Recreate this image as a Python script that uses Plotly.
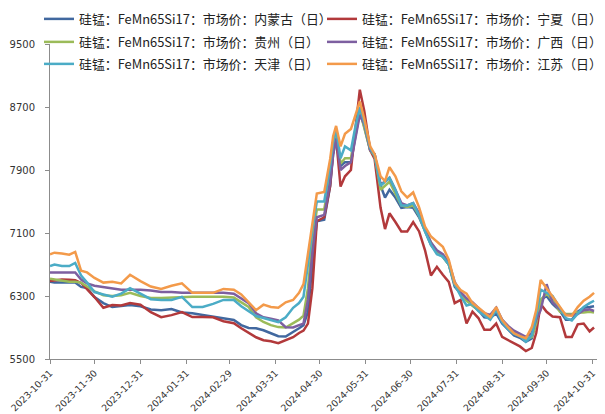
import plotly.graph_objects as go

dates = [
    "2023-10-31", "2023-11-03", "2023-11-08", "2023-11-13", "2023-11-17", "2023-11-21", "2023-11-25",
    "2023-11-30", "2023-12-06", "2023-12-12", "2023-12-18", "2023-12-24", "2023-12-31",
    "2024-01-07", "2024-01-14", "2024-01-21", "2024-01-28", "2024-02-04", "2024-02-11", "2024-02-18",
    "2024-02-25", "2024-03-03", "2024-03-08", "2024-03-13", "2024-03-18", "2024-03-23", "2024-03-28",
    "2024-04-02", "2024-04-07", "2024-04-12", "2024-04-16", "2024-04-19", "2024-04-22", "2024-04-25",
    "2024-04-28", "2024-05-03", "2024-05-07", "2024-05-09", "2024-05-11", "2024-05-14", "2024-05-17",
    "2024-05-21", "2024-05-24", "2024-05-27", "2024-05-30", "2024-06-03", "2024-06-06", "2024-06-10",
    "2024-06-13", "2024-06-16", "2024-06-20", "2024-06-24", "2024-06-28", "2024-07-02", "2024-07-06",
    "2024-07-10", "2024-07-14", "2024-07-18", "2024-07-22", "2024-07-26", "2024-07-30", "2024-08-03",
    "2024-08-07", "2024-08-11", "2024-08-15", "2024-08-19", "2024-08-23", "2024-08-27", "2024-08-31",
    "2024-09-04", "2024-09-08", "2024-09-12", "2024-09-16", "2024-09-20", "2024-09-23", "2024-09-26",
    "2024-09-30", "2024-10-04", "2024-10-09", "2024-10-13", "2024-10-17", "2024-10-21", "2024-10-25",
    "2024-10-29", "2024-11-01",
]

neimenggu = [
    6480, 6470, 6470, 6470, 6470, 6415, 6400, 6287, 6210, 6160, 6170, 6185, 6170,
    6130, 6120, 6134, 6090, 6080, 6060, 6040, 6020,
    5995, 5930, 5895, 5890, 5865, 5827,
    5790, 5785, 5840, 5890, 5930, 6100, 6700, 7250,
    7270, 7700, 8100, 8300, 7950, 8000, 8000, 8350, 8650, 8450,
    8150, 8100, 7700, 7550, 7650, 7550, 7420, 7430, 7420, 7300,
    7120, 6950, 6850, 6800, 6700, 6420, 6330, 6250, 6180, 6120,
    6030, 6020, 6080, 5950, 5870, 5800, 5770, 5720, 5760, 5980,
    6250, 6300, 6200, 6110, 6000, 6000, 6100, 6150, 6160, 6170,
]

ningxia = [
    6490, 6500, 6510, 6505, 6500, 6466, 6390, 6287, 6150, 6185, 6180, 6210, 6190,
    6095, 6032, 6057, 6095, 6032, 6032, 6030, 5980,
    5955, 5890, 5830, 5776, 5738, 5725,
    5700, 5738, 5776, 5830, 5860, 5950, 6400, 7250,
    7300, 7700, 8150, 8300, 7690, 7820, 7900, 8420, 8920, 8650,
    8150, 8040, 7420, 7150, 7350, 7240, 7120, 7120, 7240, 7120,
    6880, 6560, 6670, 6570, 6480, 6210, 6250, 5950, 6100, 6020,
    5870, 5870, 5950, 5780, 5740, 5700, 5660, 5600, 5640, 5830,
    6200, 6100, 6040, 6030, 5780, 5780, 5940, 5950, 5850, 5900,
]

guizhou = [
    6520, 6510, 6490, 6480, 6480, 6470, 6420, 6360, 6310, 6300, 6310, 6340, 6300,
    6275, 6275, 6280, 6290, 6290, 6290, 6290, 6290,
    6280, 6220, 6160, 6030, 5970, 5930,
    5905, 5900, 5950, 6000, 6050, 6400, 7000, 7400,
    7400, 7850, 8200, 8380, 7980, 8050, 8050, 8380, 8650, 8450,
    8150, 8080, 7650, 7700, 7750, 7600, 7450, 7430, 7450, 7320,
    7130, 6980, 6850, 6800, 6700, 6450, 6320, 6240, 6180, 6120,
    6060, 6030, 6130, 5990, 5900, 5840, 5810, 5750, 5780, 5950,
    6250, 6330, 6250, 6100, 6070, 6070, 6090, 6090, 6100, 6090,
]

guangxi = [
    6600, 6600, 6600, 6600, 6600, 6510, 6460, 6430, 6415, 6400, 6380, 6380, 6380,
    6370, 6350, 6350, 6340, 6340, 6340, 6340, 6340,
    6330, 6270, 6210, 6080, 6030, 6010,
    5990, 5904, 5900, 5930, 5950, 6250, 6850, 7300,
    7330, 7750, 8100, 8300, 7900, 7950, 8000, 8300, 8600, 8480,
    8150, 8100, 7720, 7750, 7800, 7650, 7480, 7450, 7480, 7350,
    7150, 6980, 6880, 6830, 6730, 6480, 6350, 6270, 6220, 6150,
    6080, 6060, 6150, 6000, 5920, 5860, 5820, 5780, 5830, 6000,
    6120, 6450, 6220, 6130, 6060, 6060, 6070, 6120, 6130, 6110,
]

tianjin = [
    6680, 6700, 6680, 6680, 6720, 6560, 6470, 6350, 6320, 6290, 6330, 6400, 6330,
    6260, 6250, 6250, 6290, 6160, 6160, 6200, 6250,
    6250, 6170, 6110, 6045, 6020, 5990,
    5968, 6030, 6150, 6210, 6290, 6700, 7150, 7500,
    7500, 7950, 8250, 8420, 8050, 8200, 8150, 8450, 8700, 8500,
    8180, 8080, 7700, 7750, 7800, 7650, 7450, 7450, 7480, 7320,
    7120, 6950, 6830, 6800, 6700, 6450, 6300, 6180, 6200, 6110,
    6050, 6000, 6120, 5970, 5880, 5820, 5790, 5720, 5800, 6050,
    6380, 6340, 6300, 6150, 6020, 5990, 6080, 6160, 6210, 6240,
]

jiangsu = [
    6830, 6850, 6840, 6825, 6860, 6620, 6600, 6530, 6470, 6480, 6460, 6570, 6490,
    6420, 6390, 6430, 6460, 6340, 6340, 6340, 6390,
    6380, 6320, 6220, 6120, 6190, 6160,
    6150, 6220, 6250, 6340, 6450, 6850, 7230, 7600,
    7620, 8040, 8330, 8460, 8200, 8360, 8420, 8590, 8770, 8550,
    8200, 8100, 7820, 7760, 7935, 7820, 7630, 7550, 7615, 7425,
    7180, 7055, 6990, 6926, 6760, 6466, 6377, 6330, 6210, 6150,
    6083, 6032, 6160, 5993, 5904, 5827, 5790, 5763, 5904, 6121,
    6504, 6400, 6290, 6160, 6057, 6050, 6160, 6240, 6290, 6340,
]

series_names = [
    "硅锰：FeMn65Si17：市场价：内蒙古（日）",
    "硅锰：FeMn65Si17：市场价：宁夏（日）",
    "硅锰：FeMn65Si17：市场价：贵州（日）",
    "硅锰：FeMn65Si17：市场价：广西（日）",
    "硅锰：FeMn65Si17：市场价：天津（日）",
    "硅锰：FeMn65Si17：市场价：江苏（日）",
]
series_values = [neimenggu, ningxia, guizhou, guangxi, tianjin, jiangsu]
colors = ["#41689F", "#B2393B", "#9BBB59", "#7D5FA0", "#4BACC6", "#F39A4A"]

y_ticks = [5500, 6300, 7100, 7900, 8700, 9500]
x_ticks = ["2023-10-31", "2023-11-30", "2023-12-31", "2024-01-31", "2024-02-29", "2024-03-31",
           "2024-04-30", "2024-05-31", "2024-06-30", "2024-07-31", "2024-08-31", "2024-09-30",
           "2024-10-31"]

# figure is 597x406 (the page adds an 8px body margin); plot area is 547x315
PW, PH = 547, 315
legend_cols = [-11 / PW, 272 / PW]
legend_rows = [1 + 40 / PH, 1 + 17 / PH, 1 - 5 / PH]

fig = go.Figure()
legend_layout = {}
for i, (name, vals, col) in enumerate(zip(series_names, series_values, colors)):
    lid = "legend" if i == 0 else "legend%d" % (i + 1)
    fig.add_trace(go.Scatter(x=dates, y=vals, name=name, mode="lines", legend=lid,
                             line=dict(color=col, width=2.5)))
    legend_layout[lid] = dict(
        orientation="v", xanchor="left", yanchor="top",
        x=legend_cols[i % 2], y=legend_rows[i // 2],
        font=dict(family="Noto Sans CJK SC", size=12.9, color="#222222"),
        bgcolor="rgba(0,0,0,0)", itemwidth=30)

fig.update_layout(
    width=597, height=406,
    margin=dict(l=42, r=8, t=36, b=55, autoexpand=False),
    paper_bgcolor="white", plot_bgcolor="white",
    showlegend=True,
    xaxis=dict(type="date", range=["2023-10-31", "2024-11-03"],
               tickvals=x_ticks, ticktext=x_ticks, tickangle=-45,
               ticklabeloverflow="allow",
               showgrid=False, zeroline=False, showline=True, linecolor="#8c8c8c",
               linewidth=1, ticks="outside", ticklen=4, tickcolor="#8c8c8c",
               tickfont=dict(family="DejaVu Sans", size=9.3, color="#333333")),
    yaxis=dict(range=[5500, 9500], tickvals=y_ticks,
               showgrid=False, zeroline=False, showline=True, linecolor="#8c8c8c",
               linewidth=1, ticks="outside", ticklen=4, tickcolor="#8c8c8c",
               ticklabelstandoff=8, ticklabeloverflow="allow",
               tickfont=dict(family="DejaVu Sans", size=10, color="#333333")),
    **legend_layout,
)

fig.write_html("out.html")
